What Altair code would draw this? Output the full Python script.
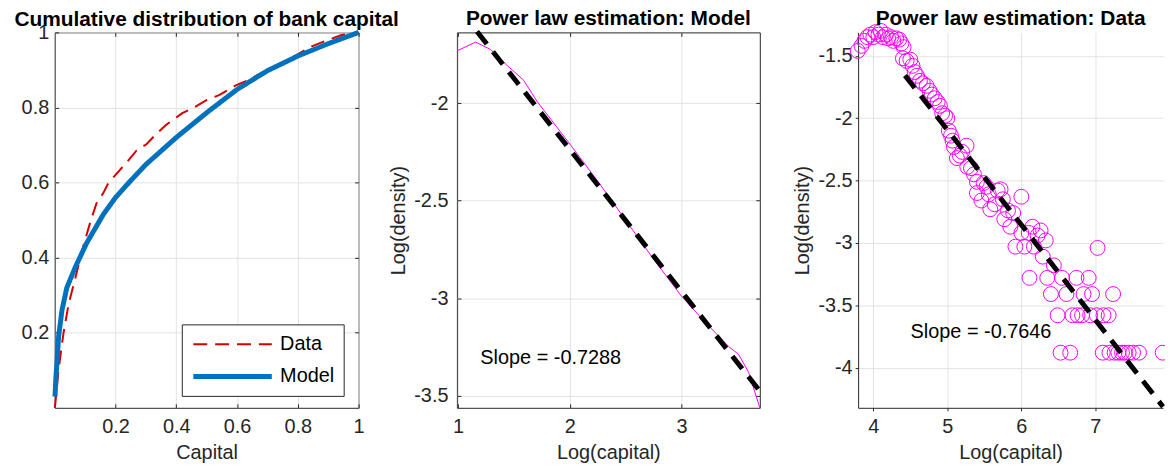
import altair as alt
import pandas as pd

FONT = "Liberation Sans"
AX = "#262626"
GRID = "#e3e3e3"
MAGENTA = "#FF00FF"

# ---------------- Left panel: cumulative distribution ----------------
series_names = ["Data", "Model"]
series_colors = ["#D40000", "#0072BD"]

model_capital = [0.001, 0.004, 0.0075, 0.013, 0.024, 0.04, 0.068, 0.106, 0.16, 0.2,
                 0.25, 0.3, 0.4, 0.5, 0.6, 0.7, 0.8, 0.9, 1.0]
model_cdf = [0.03, 0.08, 0.12, 0.19, 0.26, 0.32, 0.375, 0.44, 0.515, 0.56,
             0.605, 0.648, 0.72, 0.786, 0.848, 0.898, 0.937, 0.970, 1.0]

data_capital = [0.0, 0.002, 0.013, 0.029, 0.046, 0.068, 0.095, 0.117, 0.138, 0.16,
                0.176, 0.204, 0.235, 0.269, 0.302, 0.335, 0.367, 0.42, 0.454, 0.498,
                0.541, 0.596, 0.634, 0.70, 0.775, 0.846, 0.9, 0.944, 1.0]
data_cdf = [0.0, 0.01, 0.103, 0.199, 0.277, 0.346, 0.433, 0.494, 0.546, 0.572,
            0.598, 0.624, 0.652, 0.685, 0.702, 0.73, 0.754, 0.785, 0.798, 0.819,
            0.833, 0.859, 0.872, 0.9, 0.93, 0.963, 0.98, 0.993, 1.0]

left_ticks = [0.2, 0.4, 0.6, 0.8, 1]

# ---------------- Middle panel: power law, model ----------------
mid_logcap = [0.99, 1.157, 1.29, 1.44, 1.587, 1.706, 2.0, 2.25, 2.5, 2.75,
              3.0, 3.2, 3.42, 3.51, 3.6, 3.70]
mid_logdens = [-1.732, -1.687, -1.724, -1.807, -1.882, -1.99, -2.209, -2.40, -2.60, -2.80,
               -2.99, -3.116, -3.247, -3.288, -3.38, -3.562]
mid_fit_x = [1.17, 3.70]
mid_fit_y = [-1.632, -3.476]
mid_label = ["Slope = -0.7288"]
mid_label_x = [1.2]
mid_label_y = [-3.305]
mid_xticks = [1, 2, 3]
mid_yticks = [-3.5, -3, -2.5, -2]

# ---------------- Right panel: power law, data ----------------
right_logcap = [
    3.79, 3.84, 3.88, 3.92, 3.96, 4.00, 4.03, 4.07, 4.10, 4.13, 4.17, 4.20, 4.24, 4.27, 4.31, 4.35, 4.38, 4.41,
    4.40, 4.45, 4.50, 4.53, 4.56, 4.59, 4.63, 4.67, 4.72, 4.76, 4.79, 4.83, 4.87, 4.90, 4.93, 4.97, 5.00,
    5.02, 5.05, 5.07, 5.09, 5.13, 5.17, 5.20, 5.26, 5.27, 5.32, 5.36, 5.40, 5.40, 5.46, 5.49, 5.53, 5.56, 5.58,
    5.64, 5.68, 5.72, 5.75, 5.77, 5.82, 5.85, 5.89, 5.92, 6.00, 6.00, 6.04, 6.10, 6.15, 6.17, 6.22, 6.26, 6.29,
    6.33, 6.44,
    7.03,
    6.11, 6.35, 6.55, 6.745, 6.91,
    6.40, 6.61, 6.84, 6.955, 7.24,
    6.49, 6.69, 6.76, 6.82, 6.93, 7.02, 7.11, 7.18,
    6.53, 6.66, 7.10, 7.19, 7.26, 7.31, 7.36, 7.40, 7.45, 7.51, 7.59, 7.91,
]
right_logdens = [
    -1.46, -1.42, -1.38, -1.35, -1.33, -1.35, -1.31, -1.33, -1.30, -1.35, -1.33, -1.36, -1.35, -1.38, -1.36, -1.37, -1.40, -1.43,
    -1.52, -1.54, -1.53, -1.58, -1.63, -1.66, -1.70, -1.72, -1.74, -1.78, -1.81, -1.84, -1.87, -1.90, -1.96, -1.98, -2.00,
    -2.10, -2.14, -2.18, -2.23, -2.32, -2.30, -2.27, -2.22, -2.39, -2.40, -2.45, -2.51, -2.60, -2.66, -2.52, -2.55, -2.61, -2.73,
    -2.69, -2.58, -2.57, -2.65, -2.81, -2.74, -2.87, -2.76, -3.03, -2.63, -2.92, -3.03, -2.92, -2.87, -3.03, -2.94, -2.90, -3.11,
    -2.98, -3.18,
    -3.04,
    -3.28, -3.28, -3.28, -3.28, -3.28,
    -3.41, -3.41, -3.41, -3.41, -3.41,
    -3.58, -3.58, -3.58, -3.58, -3.58, -3.58, -3.58, -3.58,
    -3.88, -3.88, -3.88, -3.88, -3.88, -3.88, -3.88, -3.88, -3.88, -3.88, -3.88, -3.88,
]
right_fit_x = [4.428, 7.914]
right_fit_y = [-1.657, -4.313]
right_label = ["Slope = -0.7646"]
right_label_x = [4.504]
right_label_y = [-3.711]
right_xticks = [4, 5, 6, 7]
right_yticks = [-4, -3.5, -3, -2.5, -2, -1.5]

LABEL_EXPR = "datum.value + ''"
PLOT_H = 378
TICK_IN = 4  # MATLAB-style inward ticks


def inward_axis(title, values, label_padding, orient=None):
    """Axis whose ticks point into the plot box (axis shifted inward by the tick length)."""
    kw = dict(values=values, domain=False, ticks=True, tickSize=TICK_IN, offset=-TICK_IN)
    if orient is None:
        kw.update(title=title, labelExpr=LABEL_EXPR, labelPadding=label_padding)
    else:
        kw.update(orient=orient, title=None, labels=False, grid=False)
    return alt.Axis(**kw)


def box_ticks(df, xfield, yfield, xscale, yscale, xvalues, yvalues):
    """Invisible layer that only carries the top/right inward tick marks."""
    return alt.Chart(df).mark_point(opacity=0).encode(
        x=alt.X(xfield, scale=xscale, axis=inward_axis(None, xvalues, 0, orient="top")),
        y=alt.Y(yfield, scale=yscale, axis=inward_axis(None, yvalues, 0, orient="right")),
    )


# ---------------- Build left chart ----------------
cdf_df = pd.concat([
    pd.DataFrame({"capital": data_capital, "cdf": data_cdf, "series": series_names[0],
                  "ord": list(range(len(data_capital)))}),
    pd.DataFrame({"capital": model_capital, "cdf": model_cdf, "series": series_names[1],
                  "ord": list(range(len(model_capital)))}),
], ignore_index=True)

leg = alt.Legend(title=None, orient="none", legendX=128, legendY=294,
                 symbolType="M-1,0H7", symbolSize=390, labelFontSize=20, labelFont=FONT,
                 labelColor="black", strokeColor=AX, fillColor="white", padding=9,
                 rowPadding=10, labelOffset=65, symbolOpacity=1)

l_xscale = alt.Scale(domain=[0, 1], nice=False, zero=False)
l_yscale = alt.Scale(domain=[0, 1], nice=False, zero=False)

left_lines = alt.Chart(cdf_df).mark_line().encode(
    x=alt.X("capital:Q", scale=l_xscale, axis=inward_axis("Capital", left_ticks, 9)),
    y=alt.Y("cdf:Q", scale=l_yscale, axis=inward_axis(None, left_ticks, 6)),
    color=alt.Color("series:N", scale=alt.Scale(domain=series_names, range=series_colors), legend=leg),
    strokeDash=alt.StrokeDash("series:N", scale=alt.Scale(domain=series_names, range=[[14, 8], [1, 0]]), legend=leg),
    strokeWidth=alt.StrokeWidth("series:N", scale=alt.Scale(domain=series_names, range=[2, 5]), legend=leg),
    order="ord:Q",
)
left = alt.layer(
    left_lines, box_ticks(cdf_df, "capital:Q", "cdf:Q", l_xscale, l_yscale, left_ticks, left_ticks)
).resolve_axis(x="independent", y="independent").properties(
    width=306, height=PLOT_H, title="Cumulative distribution of bank capital")

# ---------------- Build middle chart ----------------
m_xscale = alt.Scale(domain=[0.99, 3.70], nice=False, zero=False)
m_yscale = alt.Scale(domain=[-3.562, -1.637], nice=False, zero=False)
mid_x = alt.X("x:Q", scale=m_xscale, axis=inward_axis("Log(capital)", mid_xticks, 9))
mid_y = alt.Y("y:Q", scale=m_yscale, axis=inward_axis("Log(density)", mid_yticks, 9))

mid_df = pd.DataFrame({"x": mid_logcap, "y": mid_logdens})
mid_curve = alt.Chart(mid_df).mark_line(color=MAGENTA, strokeWidth=1).encode(x=mid_x, y=mid_y)
mid_fit = alt.Chart(pd.DataFrame({"x": mid_fit_x, "y": mid_fit_y})).mark_line(
    color="black", strokeWidth=5, strokeDash=[16, 10]).encode(x=mid_x, y=mid_y)
mid_text = alt.Chart(pd.DataFrame({"x": mid_label_x, "y": mid_label_y, "t": mid_label})).mark_text(
    align="left", baseline="middle", fontSize=20, font=FONT, color="black").encode(x=mid_x, y=mid_y, text="t:N")
mid_base = alt.layer(mid_curve, mid_fit, mid_text)

middle = alt.layer(
    mid_base, box_ticks(mid_df, "x:Q", "y:Q", m_xscale, m_yscale, mid_xticks, mid_yticks)
).resolve_axis(x="independent", y="independent").properties(
    width=305, height=PLOT_H, title="Power law estimation: Model")

# ---------------- Build right chart ----------------
r_x = alt.X("x:Q", scale=alt.Scale(domain=[3.795, 7.914], nice=False, zero=False),
            axis=alt.Axis(title="Log(capital)", values=right_xticks, labelExpr=LABEL_EXPR,
                          domain=True, ticks=True, tickSize=3, labelPadding=6))
r_y = alt.Y("y:Q", scale=alt.Scale(domain=[-4.322, -1.312], nice=False, zero=False),
            axis=alt.Axis(title="Log(density)", values=right_yticks, labelExpr=LABEL_EXPR,
                          domain=True, ticks=True, tickSize=3, labelPadding=3))

r_pts = alt.Chart(pd.DataFrame({"x": right_logcap, "y": right_logdens})).mark_point(
    shape="circle", filled=False, size=225, strokeWidth=1, color=MAGENTA, opacity=1).encode(x=r_x, y=r_y)
r_fit = alt.Chart(pd.DataFrame({"x": right_fit_x, "y": right_fit_y})).mark_line(
    color="black", strokeWidth=5, strokeDash=[16, 10]).encode(x=r_x, y=r_y)
r_text = alt.Chart(pd.DataFrame({"x": right_label_x, "y": right_label_y, "t": right_label})).mark_text(
    align="left", baseline="middle", fontSize=20, font=FONT, color="black").encode(x=r_x, y=r_y, text="t:N")

right = alt.layer(r_pts, r_fit, r_text).properties(
    width=307, height=PLOT_H, title="Power law estimation: Data",
    view=alt.ViewBackground(stroke="transparent"))

chart = alt.hconcat(left, middle, right, spacing=99, bounds="flush").configure(
    font=FONT, padding={"left": 5, "top": -2, "right": -9, "bottom": -2}
).configure_axis(
    labelFont=FONT, labelFontSize=20, labelColor=AX, titleFont=FONT, titleFontSize=20,
    titleColor=AX, titleFontWeight="normal", gridColor=GRID, gridWidth=1, domainColor=AX,
    domainWidth=1, tickColor=AX, ticks=False, labelFlush=False, labelOverlap=False,
    labelPadding=9, titlePadding=6,
).configure_axisY(titlePadding=5).configure_title(
    font=FONT, fontSize=21, fontWeight="bold", color="black", offset=-8, anchor="middle"
).configure_view(stroke=AX, strokeWidth=1)

chart.save("out.html", embed_options={"renderer": "svg", "actions": False})
